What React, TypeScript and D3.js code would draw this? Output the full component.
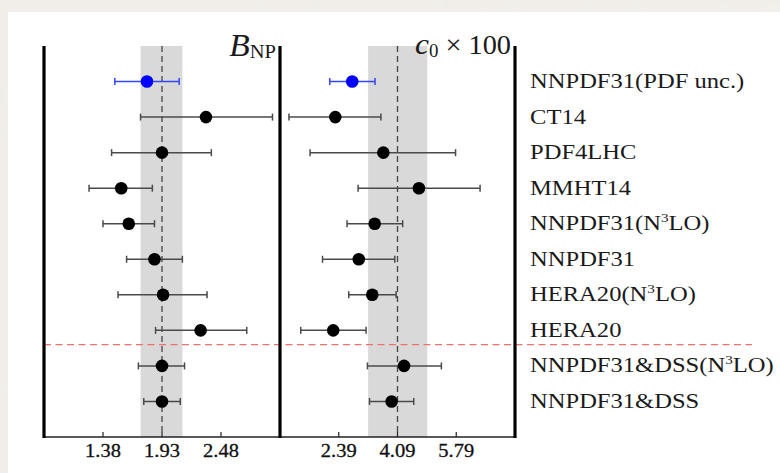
import React from "react";
import * as d3 from "d3";

const W = 780;
const H = 473;

const fits = [
  "NNPDF31(PDF unc.)",
  "CT14",
  "PDF4LHC",
  "MMHT14",
  "NNPDF31(N3LO)",
  "NNPDF31",
  "HERA20(N3LO)",
  "HERA20",
  "NNPDF31&DSS(N3LO)",
  "NNPDF31&DSS",
];
const highlighted = [true, false, false, false, false, false, false, false, false, false];

const bnpValue = [1.79, 2.34, 1.93, 1.55, 1.62, 1.86, 1.94, 2.29, 1.93, 1.93];
const bnpLow = [1.49, 1.73, 1.46, 1.25, 1.38, 1.6, 1.52, 1.87, 1.71, 1.76];
const bnpHigh = [2.09, 2.96, 2.39, 1.84, 1.86, 2.12, 2.35, 2.72, 2.14, 2.1];

const c0Value = [2.78, 2.29, 3.68, 4.71, 3.43, 2.97, 3.36, 2.23, 4.28, 3.92];
const c0Low = [2.13, 0.95, 1.56, 2.95, 2.63, 1.92, 2.68, 1.29, 3.22, 3.28];
const c0High = [3.44, 3.61, 5.77, 6.48, 4.24, 4.01, 4.05, 3.18, 5.36, 4.56];

const bnpBand = [1.73, 2.12];
const bnpCentral = 1.93;
const c0Band = [3.24, 4.95];
const c0Central = 4.09;

const bnpTicks = [1.38, 1.93, 2.48];
const c0Ticks = [2.39, 4.09, 5.79];
const bnpDomain = [0.83, 3.03];
const c0Domain = [0.69, 7.49];

// separator between index 7 and 8 (slightly above midway)
const separatorAt = 7.4;

const serif = "'Liberation Serif', 'Times New Roman', serif";

function Label({ text, x, y }: { text: string; x: number; y: number }) {
  const parts = text.split("N3LO");
  return (
    <text
      transform={`translate(${x},${y}) scale(1.17,1)`}
      fontFamily={serif}
      fontSize={21}
      fill="#1a1a1a"
    >
      {parts.length === 1 ? (
        text
      ) : (
        <>
          <tspan>{parts[0] + "N"}</tspan>
          <tspan fontSize={13} dy={-8}>3</tspan>
          <tspan dy={8}>{"LO" + parts[1]}</tspan>
        </>
      )}
    </text>
  );
}

function Panel({
  x,
  y,
  values,
  lows,
  highs,
  band,
  central,
}: {
  x: d3.ScaleLinear<number, number>;
  y: (i: number) => number;
  values: number[];
  lows: number[];
  highs: number[];
  band: number[];
  central: number;
}) {
  const [top, bottom] = [46, 437];
  return (
    <g>
      <rect
        x={x(band[0])}
        y={top}
        width={x(band[1]) - x(band[0])}
        height={bottom - top}
        fill="#d9d9d9"
      />
      <line
        x1={x(central)}
        x2={x(central)}
        y1={top}
        y2={bottom}
        stroke="#444"
        strokeWidth={1.3}
        strokeDasharray="6,4"
      />
      {values.map((v, i) => {
        const col = highlighted[i] ? "#3346ff" : "#4a4a4a";
        const cy = y(i);
        return (
          <g key={i}>
            <line x1={x(lows[i])} x2={x(highs[i])} y1={cy} y2={cy} stroke={col} strokeWidth={1.5} />
            <line x1={x(lows[i])} x2={x(lows[i])} y1={cy - 3.5} y2={cy + 3.5} stroke={col} strokeWidth={1.5} />
            <line x1={x(highs[i])} x2={x(highs[i])} y1={cy - 3.5} y2={cy + 3.5} stroke={col} strokeWidth={1.5} />
            <circle cx={x(v)} cy={cy} r={6.3} fill={highlighted[i] ? "#0000ff" : "#000"} />
          </g>
        );
      })}
    </g>
  );
}

export default function App() {
  const idx = d3.range(fits.length);
  const yScale = d3.scalePoint<number>().domain(idx).range([46, 437]).padding(1);
  const y = (i: number) => yScale(i) as number;
  const step = yScale.step();

  const xB = d3.scaleLinear().domain(bnpDomain).range([44, 280]);
  const xC = d3.scaleLinear().domain(c0Domain).range([280, 515]);

  const sepY = y(Math.floor(separatorAt)) + (separatorAt - Math.floor(separatorAt)) * step;
  const axisY = 437;

  return (
    <svg
      width={W}
      height={H}
      style={{ position: "absolute", left: 0, top: 0, display: "block" }}
    >
      <defs>
        <filter id="paper" x="0" y="0" width="100%" height="100%">
          <feTurbulence type="fractalNoise" baseFrequency="0.04" numOctaves={3} seed={4} />
          <feColorMatrix
            type="matrix"
            values="0 0 0 0 0.90  0 0 0 0 0.88  0 0 0 0 0.84  0 0 0 0.25 0"
          />
        </filter>
      </defs>
      <rect x={0} y={0} width={W} height={H} fill="#f1eee9" />
      <rect x={0} y={0} width={W} height={H} filter="url(#paper)" />
      <rect x={8} y={12} width={W - 8} height={H - 12} fill="#fff" />

      <Panel x={xB} y={y} values={bnpValue} lows={bnpLow} highs={bnpHigh} band={bnpBand} central={bnpCentral} />
      <Panel x={xC} y={y} values={c0Value} lows={c0Low} highs={c0High} band={c0Band} central={c0Central} />

      {/* separator */}
      <line
        x1={44}
        x2={752}
        y1={sepY}
        y2={sepY}
        stroke="#f07070"
        strokeWidth={1.2}
        strokeDasharray="7,4.5"
      />

      {/* bottom axis */}
      <line x1={44} x2={516} y1={axisY} y2={axisY} stroke="#222" strokeWidth={1.5} />
      {bnpTicks.map((t) => (
        <g key={"b" + t}>
          <line x1={xB(t)} x2={xB(t)} y1={axisY} y2={axisY - 5} stroke="#222" strokeWidth={1.2} />
          <text
            transform={`translate(${xB(t)},457) scale(1.08,1)`}
            textAnchor="middle"
            fontFamily={serif}
            fontSize={19}
            fill="#111"
            stroke="#111"
            strokeWidth={0.3}
          >
            {t.toFixed(2)}
          </text>
        </g>
      ))}
      {c0Ticks.map((t) => (
        <g key={"c" + t}>
          <line x1={xC(t)} x2={xC(t)} y1={axisY} y2={axisY - 5} stroke="#222" strokeWidth={1.2} />
          <text
            transform={`translate(${xC(t)},457) scale(1.08,1)`}
            textAnchor="middle"
            fontFamily={serif}
            fontSize={19}
            fill="#111"
            stroke="#111"
            strokeWidth={0.3}
          >
            {t.toFixed(2)}
          </text>
        </g>
      ))}

      {/* thick vertical frame lines */}
      {[44, 280, 515].map((vx) => (
        <line key={vx} x1={vx} x2={vx} y1={46} y2={axisY + 1} stroke="#000" strokeWidth={3.2} />
      ))}

      {/* panel titles */}
      <text
        transform={`translate(276,56) scale(1.08,1)`}
        textAnchor="end"
        fontFamily={serif}
        fill="#1a1a1a"
      >
        <tspan fontStyle="italic" fontSize={31}>B</tspan>
        <tspan fontSize={19} dy={2}>NP</tspan>
      </text>
      <text
        transform={`translate(511,54) scale(1.05,1)`}
        textAnchor="end"
        fontFamily={serif}
        fill="#1a1a1a"
      >
        <tspan fontStyle="italic" fontSize={30}>c</tspan>
        <tspan fontSize={18} dy={3}>0</tspan>
        <tspan fontSize={27} dy={-3}>{" \u00d7 100"}</tspan>
      </text>

      {/* row labels */}
      {fits.map((f, i) => (
        <Label key={f} text={f} x={530} y={y(i) + 6.5} />
      ))}
    </svg>
  );
}
